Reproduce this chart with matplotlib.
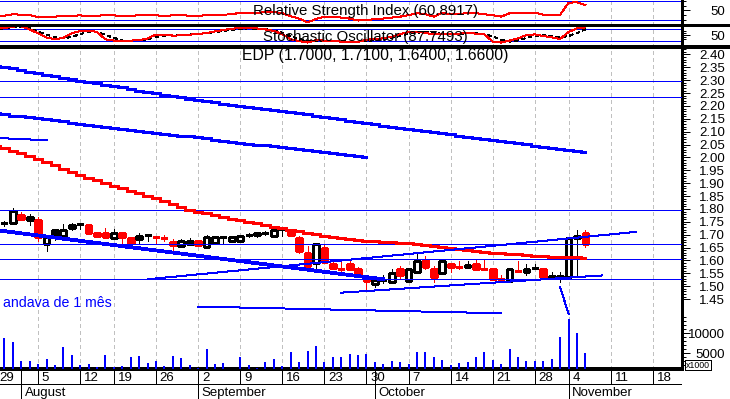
import matplotlib
matplotlib.use('Agg')
import matplotlib.pyplot as plt
import numpy as np
import pandas as pd
from matplotlib.lines import Line2D
from matplotlib.ticker import FixedLocator

plt.rcParams['font.family'] = ['Liberation Sans', 'DejaVu Sans']
plt.rcParams['font.size'] = 9.5
plt.rcParams['lines.antialiased'] = False
plt.rcParams['patch.antialiased'] = False

# trading calendar (Euronext Lisbon, 2002)
holidays = ['2002-08-15', '2002-11-01']
days = pd.bdate_range('2002-07-29', '2002-11-22')
days = days[~days.isin(pd.to_datetime(holidays))]

# candles 30 Jul .. 6 Nov
opens = [1.744, 1.744, 1.777, 1.757, 1.757, 1.664, 1.718, 1.695, 1.725, 1.742,
         1.738, 1.695, 1.706, 1.688, 1.706, 1.686, 1.685, 1.700, 1.691, 1.689,
         1.673, 1.656, 1.664, 1.675, 1.654, 1.667, 1.692, 1.675, 1.675, 1.700,
         1.698, 1.708, 1.695, 1.721, 1.718, 1.686, 1.630, 1.589, 1.647, 1.586,
         1.568, 1.586, 1.566, 1.523, 1.509, 1.525, 1.518, 1.566, 1.521, 1.557,
         1.602, 1.566, 1.553, 1.586, 1.576, 1.574, 1.586, 1.566, 1.566, 1.527,
         1.521, 1.559, 1.554, 1.571, 1.566, 1.532, 1.532, 1.535, 1.686, 1.708]
highs = [1.755, 1.804, 1.788, 1.781, 1.770, 1.692, 1.718, 1.741, 1.744, 1.745,
         1.738, 1.706, 1.725, 1.721, 1.706, 1.686, 1.706, 1.700, 1.691, 1.700,
         1.682, 1.682, 1.687, 1.675, 1.698, 1.695, 1.692, 1.692, 1.695, 1.708,
         1.706, 1.716, 1.726, 1.721, 1.718, 1.695, 1.656, 1.664, 1.664, 1.599,
         1.599, 1.599, 1.574, 1.525, 1.524, 1.543, 1.566, 1.579, 1.566, 1.630,
         1.617, 1.579, 1.597, 1.586, 1.597, 1.599, 1.602, 1.602, 1.566, 1.544,
         1.566, 1.598, 1.585, 1.586, 1.566, 1.554, 1.556, 1.686, 1.718, 1.718]
lows = [1.734, 1.744, 1.760, 1.739, 1.677, 1.638, 1.680, 1.695, 1.718, 1.721,
        1.708, 1.695, 1.690, 1.682, 1.669, 1.667, 1.667, 1.677, 1.664, 1.677,
        1.641, 1.651, 1.664, 1.661, 1.649, 1.667, 1.667, 1.675, 1.675, 1.692,
        1.690, 1.698, 1.695, 1.695, 1.698, 1.630, 1.579, 1.570, 1.595, 1.570,
        1.553, 1.566, 1.535, 1.483, 1.498, 1.511, 1.511, 1.529, 1.518, 1.557,
        1.566, 1.518, 1.549, 1.557, 1.566, 1.574, 1.568, 1.566, 1.528, 1.518,
        1.521, 1.559, 1.544, 1.571, 1.537, 1.532, 1.518, 1.535, 1.535, 1.651]
closes = [1.744, 1.792, 1.760, 1.768, 1.690, 1.692, 1.696, 1.718, 1.738, 1.742,
          1.708, 1.706, 1.690, 1.706, 1.693, 1.667, 1.695, 1.700, 1.691, 1.689,
          1.660, 1.675, 1.677, 1.661, 1.690, 1.692, 1.692, 1.692, 1.695, 1.700,
          1.706, 1.708, 1.718, 1.721, 1.698, 1.638, 1.579, 1.664, 1.595, 1.570,
          1.568, 1.566, 1.544, 1.521, 1.524, 1.525, 1.553, 1.545, 1.566, 1.597,
          1.576, 1.537, 1.597, 1.576, 1.574, 1.584, 1.568, 1.566, 1.528, 1.527,
          1.566, 1.559, 1.566, 1.571, 1.537, 1.541, 1.541, 1.686, 1.695, 1.664]
volume = [8800, 7830, 3000, 3000, 2250, 3500, 2000, 6580, 4500, 2000,
          2250, 1420, 4500, 1420, 1750, 4080, 4250, 2580, 3000, 1750,
          4250, 3830, 2000, 1200, 5920, 2250, 2580, 1000, 4080, 2000,
          1170, 2830, 3500, 1750, 5250, 2830, 5500, 6750, 2830, 4080,
          4080, 4750, 4500, 4750, 2830, 2250, 3000, 2830, 2250, 5250,
          5250, 4080, 3250, 2000, 2580, 2830, 4080, 5250, 3250, 2250,
          6000, 4080, 3000, 3000, 3000, 3500, 9080, 13500, 10080, 5080]

# indicator lines 29 Jul .. 6 Nov
ma_red = [2.046, 2.037, 2.027, 2.016, 2.005, 1.993, 1.981, 1.969, 1.957, 1.944,
          1.932, 1.921, 1.911, 1.900, 1.890, 1.880, 1.870, 1.861, 1.851, 1.842,
          1.830, 1.819, 1.807, 1.796, 1.789, 1.783, 1.776, 1.770, 1.763, 1.757,
          1.751, 1.744, 1.738, 1.731, 1.725, 1.720, 1.714, 1.708, 1.703, 1.697,
          1.692, 1.687, 1.683, 1.679, 1.676, 1.674, 1.672, 1.670, 1.668, 1.667,
          1.664, 1.660, 1.656, 1.652, 1.648, 1.645, 1.641, 1.638, 1.634, 1.631,
          1.628, 1.626, 1.624, 1.622, 1.619, 1.617, 1.615, 1.614, 1.613, 1.612, 1.611]
ma_blue_long = [2.356, 2.351, 2.346, 2.340, 2.333, 2.327, 2.321, 2.315, 2.309, 2.303,
                2.298, 2.293, 2.288, 2.283, 2.278, 2.272, 2.266, 2.260, 2.255, 2.249,
                2.244, 2.239, 2.233, 2.228, 2.223, 2.218, 2.214, 2.209, 2.205, 2.200,
                2.196, 2.192, 2.189, 2.185, 2.181, 2.176, 2.172, 2.167, 2.163, 2.158,
                2.153, 2.148, 2.143, 2.138, 2.133, 2.129, 2.124, 2.120, 2.116, 2.111,
                2.107, 2.103, 2.098, 2.094, 2.090, 2.085, 2.081, 2.077, 2.072, 2.068,
                2.064, 2.059, 2.055, 2.051, 2.046, 2.042, 2.038, 2.033, 2.029, 2.025, 2.021]
ma_blue_mid = [2.171, 2.167, 2.163, 2.160, 2.156, 2.152, 2.148, 2.144, 2.140, 2.135,
               2.131, 2.127, 2.123, 2.119, 2.114, 2.111, 2.107, 2.103, 2.100, 2.096,
               2.093, 2.089, 2.085, 2.082, 2.078, 2.074, 2.069, 2.065, 2.061, 2.057,
               2.054, 2.050, 2.047, 2.043, 2.040, 2.036, 2.032, 2.028, 2.025, 2.021,
               2.017, 2.013, 2.010, 2.006, 2.003]
rsi = [37, 39, 42, 41, 40.5, 35.5, 36, 37, 38.5, 39,
       39.5, 38.5, 39, 40, 39.5, 38.5, 38, 40.5, 41, 39.5,
       39, 39.5, 40, 39, 38.5, 40, 40.5, 41, 42, 45,
       45.5, 45, 46, 47, 44, 38, 33, 25, 32, 37,
       37, 35, 33, 29, 30, 32, 33, 35, 37, 40,
       44, 42, 37, 45, 42, 43, 44, 44, 42, 40,
       37, 44, 44, 44, 45, 41, 41, 41, 66, 66.6, 60.89]
stoch_k = [83, 85, 92, 94, 78, 58, 38, 28, 36, 58,
           70, 72, 65, 28, 22, 22, 22, 24, 33, 52,
           52, 47, 48, 52, 55, 60, 68, 75, 81, 85,
           84, 83, 78, 70, 55, 28, 20, 12, 24, 22,
           19, 17, 15, 16, 26, 30, 33, 42, 55, 65,
           67, 60, 54, 53, 55, 57, 60, 57, 53, 17,
           12, 22, 33, 50, 53, 45, 38, 30, 65, 83, 87.75]
stoch_d = [77, 82, 88, 92, 85, 67, 52, 40, 33, 40,
           55, 66, 67, 50, 36, 22, 22, 24, 28, 40,
           47, 50, 49, 52, 56, 60, 64, 70, 76, 81,
           83, 82, 79, 72, 62, 44, 30, 20, 19, 20,
           21, 19, 17, 16, 19, 25, 30, 37, 45, 56,
           62, 64, 60, 56, 55, 56, 58, 58, 54, 42,
           27, 17, 23, 36, 46, 49, 45, 37, 45, 60, 78]

# drawn lines
levels = [2.297, 2.235, 1.796, 1.664, 1.606, 1.528]
thick_trend = ('2002-07-29', 1.718, '2002-10-02', 1.527)
thin_trends = [('2002-07-29', 2.076, '2002-08-06', 2.067),
               ('2002-08-23', 1.527, '2002-11-14', 1.711),
               ('2002-09-25', 1.475, '2002-11-08', 1.542),
               ('2002-09-02', 1.421, '2002-10-22', 1.395),
               ('2002-10-31', 1.497, '2002-11-04', 1.392)]

price_ticks = [1.45, 1.50, 1.55, 1.60, 1.65, 1.70, 1.75, 1.80, 1.85, 1.90,
               1.95, 2.00, 2.05, 2.10, 2.15, 2.20, 2.25, 2.30, 2.35, 2.40]
vol_ticks = [5000, 10000]

W, H = 730, 399


def box(x0, y0, x1, y1):
    return [x0 / W, 1 - y1 / H, (x1 - x0) / W, (y1 - y0) / H]


def pos(d):
    return days.get_loc(pd.Timestamp(d))


fig = plt.figure(figsize=(7.3, 3.99), dpi=100)
ax_rsi = fig.add_axes(box(0, 0, 682, 25))
ax_sto = fig.add_axes(box(0, 25, 682, 46.5))
ax = fig.add_axes(box(0, 46.5, 682, 369))
ax_vol = ax.twinx()
ax_dt = fig.add_axes(box(0, 369, 682, 399))

xlim = (0.475, 81.47)
blue, red = '#0000ff', '#ff0000'
thin = 0.72
mondays = [i for i, d in enumerate(days) if d.weekday() == 0]
month_starts = [i for i in range(1, len(days)) if days[i].month != days[i - 1].month]
x_line = np.arange(len(rsi))
x_candle = np.arange(1, len(closes) + 1)

for a in (ax_rsi, ax_sto, ax):
    a.set_xlim(xlim)
    for s in ('top', 'left', 'bottom'):
        a.spines[s].set_visible(False)
    a.spines['right'].set_linewidth(1.0)
    a.tick_params(axis='x', bottom=False, labelbottom=False)
    a.yaxis.tick_right()
    for m in mondays:
        a.axvline(m, color='#c0c0c0', lw=thin, ls=(0, (4, 4)), zorder=0)

# RSI panel
ax_rsi.set_ylim(19.7, 71.45)
for lv in (30, 70):
    ax_rsi.axhline(lv, color=blue, lw=thin)
ax_rsi.plot(x_line, rsi, color=red, lw=thin)

# stochastic panel
ax_sto.set_ylim(-7.5, 100)
for lv in (20, 80):
    ax_sto.axhline(lv, color=blue, lw=thin)
ax_sto.plot(x_line, stoch_d, color='black', lw=thin, ls=(0, (3, 3)))
ax_sto.plot(x_line, stoch_k, color=red, lw=thin)

for a in (ax_rsi, ax_sto):
    a.set_yticks([50])
    a.set_yticklabels(['50'])
    a.yaxis.set_minor_locator(FixedLocator([30, 40, 60, 70]))

# price panel
ax.set_ylim(1.1786, 2.431)
ax.spines['bottom'].set_visible(True)
ax.spines['bottom'].set_linewidth(1.5)
for lv in levels:
    ax.axhline(lv, color=blue, lw=thin, zorder=3)

ax.plot(x_line, ma_blue_long, color=blue, lw=2, drawstyle='steps-mid', zorder=3)
ax.plot(np.arange(len(ma_blue_mid)), ma_blue_mid, color=blue, lw=2,
        drawstyle='steps-mid', zorder=3)
ax.plot(x_line, ma_red, color=red, lw=2, drawstyle='steps-mid', zorder=3)

d0, p0, d1, p1 = thick_trend
ax.plot([pos(d0), pos(d1)], [p0, p1], color=blue, lw=2, zorder=3)
for d0, p0, d1, p1 in thin_trends:
    ax.plot([pos(d0), pos(d1)], [p0, p1], color=blue, lw=thin, zorder=3)

o, h, l, c = map(np.array, (opens, highs, lows, closes))
prev = np.r_[np.nan, c[:-1]]
cols = np.where(c < prev, red, 'black')
ax.vlines(x_candle, l, h, colors=cols, lw=thin, zorder=2)
for x, oo, cc, col in zip(x_candle, o, c, cols):
    if abs(cc - oo) < 0.001:
        ax.hlines(oo, x - 0.36, x + 0.36, colors=col, lw=1.0, zorder=2.1)
    else:
        ax.bar(x, abs(cc - oo), width=0.68, bottom=min(oo, cc),
               facecolor=col if cc < oo else 'white', edgecolor=col,
               lw=1.0, zorder=2.1)

ax.set_yticks(price_ticks)
ax.set_yticklabels([f'{t:.2f}' for t in price_ticks])
ax.yaxis.set_minor_locator(FixedLocator(np.round(np.arange(1.45, 2.431, 0.01), 2)))

# volume: zero sits a few pixels below the axis line
ax_vol.set_ylim(1000, 81625)
for s in ax_vol.spines.values():
    s.set_visible(False)
ax_vol.vlines(x_candle, 0, volume, color=blue, lw=1.4)
ax_vol.set_yticks(vol_ticks)
ax_vol.set_yticklabels([str(v) for v in vol_ticks])
ax_vol.yaxis.set_minor_locator(FixedLocator(np.arange(2000, 15000, 1000)))

for a in (ax_rsi, ax_sto, ax, ax_vol):
    a.tick_params(axis='y', which='major', direction='out', length=5.8,
                  width=thin, pad=25.2, labelsize=9.5)
    a.tick_params(axis='y', which='minor', direction='out', length=2.9, width=thin)
    for t in a.get_yticklabels():
        t.set_horizontalalignment('right')

# date strip
ax_dt.set_xlim(xlim)
ax_dt.set_ylim(399, 369)
ax_dt.axis('off')
ax_dt.vlines(mondays, 369, 384, color='black', lw=thin)
ax_dt.axhline(384, color='black', lw=thin)
ax_dt.vlines(month_starts, 369, 399, color='black', lw=thin)
for i in mondays:
    ax_dt.text(i + 0.45, 378, str(days[i].day), ha='left', va='center')
for i in month_starts:
    ax_dt.text(i + 0.45, 393, days[i].strftime('%B'), ha='left', va='center')

# separators and titles
fig.add_artist(Line2D([0, 1], [1 - 25 / H] * 2, color='black', lw=1.0))
fig.add_artist(Line2D([0, 1], [1 - 46.5 / H] * 2, color='black', lw=1.5))
fig.text(366 / W, 1 - 11.5 / H, 'Relative Strength Index (60.8917)',
         ha='center', va='center', fontsize=10.8)
fig.text(365 / W, 1 - 36.5 / H, 'Stochastic Oscillator (87.7493)',
         ha='center', va='center', fontsize=10.8)
fig.text(242 / W, 1 - 55.5 / H, 'EDP (1.7000, 1.7100, 1.6400, 1.6600)',
         ha='left', va='center', fontsize=11.3)
fig.text(3 / W, 1 - 303 / H, 'andava de 1 mês', color=blue, ha='left',
         va='center', fontsize=10.2)
fig.text(686 / W, 1 - 365 / H, 'x1000', fontsize=6.3, ha='left', va='center',
         bbox=dict(boxstyle='square,pad=0.1', fc='white', ec='black', lw=0.6))

fig.savefig('out.png', dpi=100)
